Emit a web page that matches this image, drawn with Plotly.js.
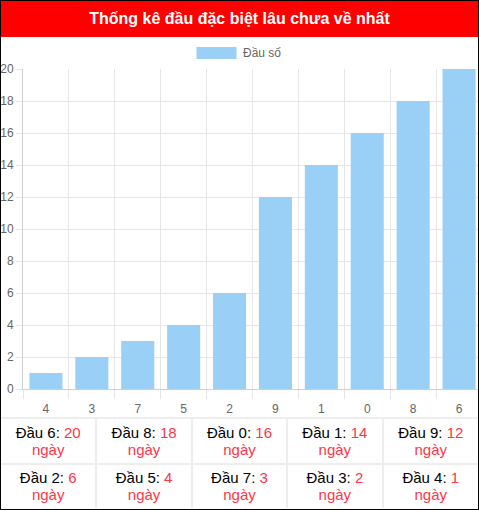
<!DOCTYPE html>
<html><head><meta charset="utf-8">
<script src="https://cdn.plot.ly/plotly-3.0.1.min.js"></script>
<style>
html,body{margin:0;padding:0;background:#fff;}
#wrap{position:relative;width:479px;height:510px;box-sizing:border-box;border:1px solid #000;overflow:hidden;font-family:"Liberation Sans",Arial,sans-serif;background:#fff;}
#hdr{height:36px;background:#f00;color:#fff;font-weight:bold;font-size:16px;line-height:36px;text-align:center;}
#chart{width:481px;height:380px;}
table{width:477px;height:91px;border-collapse:collapse;table-layout:fixed;}
td{border-top:2px solid #eee;border-left:2px solid #eee;text-align:center;vertical-align:middle;font-size:15px;line-height:17px;color:#000;padding:0;}
td:first-child{border-left:none;}
.v{color:#ff3547;}
</style></head>
<body>
<div id="wrap">
  <div id="hdr">Thống kê đầu đặc biệt lâu chưa về nhất</div>
  <div id="chart"></div>
  <table id="tbl"></table>
</div>
<script>
const categories = ['4','3','7','5','2','9','1','0','8','6'];
const values = [1,2,3,4,6,12,14,16,18,20];
const yTickVals = [0,2,4,6,8,10,12,14,16,18,20];
const seriesName = 'Đầu số';
const dayLabel = 'ngày';
const headLabel = 'Đầu';

const idx = categories.map((c,i)=>i);
const barColor = '#9ad0f5';
const grid = '#e6e6e6';

const trace = {
  type:'bar', x: idx, y: values, name: seriesName, width: 0.72,
  marker:{color: barColor, line:{width:0}}, hoverinfo:'none', showlegend:false
};
const layout = {
  width:481, height:380,
  margin:{l:22, r:0, t:32, b:28, pad:0},
  paper_bgcolor:'#fff', plot_bgcolor:'#fff',
  font:{family:'"Liberation Sans", Arial, sans-serif', size:12, color:'#666'},
  showlegend:false,
  xaxis:{
    range:[-0.5, 9.5], tickmode:'array', tickvals: idx, ticktext: categories,
    ticks:'outside', ticklen:9, tickcolor:'rgba(0,0,0,0)',
    showgrid:false, zeroline:false, showline:true, linecolor:'#cfcfcf', linewidth:1,
    tickfont:{size:12, color:'#666'}, fixedrange:true,
    minor:{tickmode:'linear', tick0:-0.5, dtick:1, ticks:'outside', ticklen:9, tickcolor:grid, showgrid:true, gridcolor:grid, gridwidth:1}
  },
  yaxis:{
    range:[0,20], tickmode:'array', tickvals: yTickVals,
    ticks:'outside', ticklen:6, tickcolor:grid,
    showgrid:true, gridcolor:grid, zeroline:false, showline:true, linecolor:'#cfcfcf', linewidth:1,
    tickfont:{size:12, color:'#666'}, fixedrange:true
  },
  shapes:[{
    type:'rect', xref:'paper', yref:'paper', xsizemode:'pixel', ysizemode:'pixel',
    xanchor:0.4216, yanchor:1.0502, x0:-20, x1:20, y0:-6, y1:6,
    fillcolor:barColor, line:{width:0}
  }],
  annotations:[{
    xref:'paper', yref:'paper', x:0.474, y:1.0502, xanchor:'left', yanchor:'middle',
    showarrow:false, text: seriesName, font:{size:12, color:'#666'}
  }]
};
Plotly.newPlot('chart', [trace], layout, {displayModeBar:false, staticPlot:true});

// table: sorted by value descending
const order = idx.slice().sort((a,b)=>values[b]-values[a]);
const tbl = document.getElementById('tbl');
for (let r=0; r<2; r++){
  const tr = document.createElement('tr');
  for (let c=0; c<5; c++){
    const k = order[r*5+c];
    const td = document.createElement('td');
    td.innerHTML = headLabel + ' ' + categories[k] + ': <span class="v">' + values[k] + '</span><br><span class="v">' + dayLabel + '</span>';
    tr.appendChild(td);
  }
  tbl.appendChild(tr);
}
</script>
</body></html>
